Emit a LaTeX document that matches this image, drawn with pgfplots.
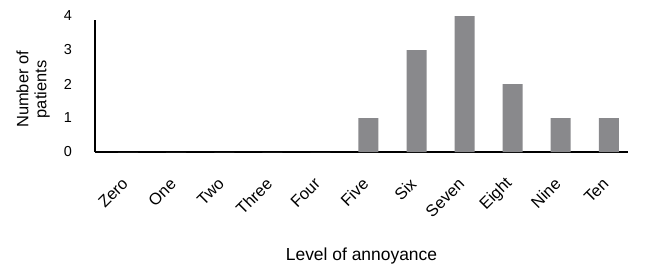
\documentclass[border=0pt]{standalone}
\usepackage{pgfplots}
\pgfplotsset{compat=1.18}
\usepackage{fontspec}
\setmainfont{Liberation Sans}
\definecolor{bargray}{RGB}{137,137,140}
\begin{document}
\begin{tikzpicture}
\begin{axis}[
  scale only axis,
  width=533bp, height=136bp,
  xmin=-0.69, xmax=10.4,
  ymin=0, ymax=4,
  axis x line*=bottom, axis y line*=left,
  x axis line style={line width=1.6pt, black, -},
  y axis line style={draw=none},
  xtick={0,...,10},
  xticklabels={Zero,One,Two,Three,Four,Five,Six,Seven,Eight,Nine,Ten},
  ytick={0,1,2,3,4},
  major tick length=0pt,
  tick style={draw=none},
  /pgf/number format/assume math mode=true,
  xticklabel style={font=\fontsize{16.5}{18}\selectfont, xshift=-3bp, yshift=-29bp, rotate=45, anchor=east, inner sep=0pt},
  yticklabel style={font=\fontsize{14.5}{16}\selectfont, anchor=east, inner sep=0pt, xshift=-23bp},
  xlabel={Level of annoyance},
  xlabel style={font=\fontsize{17.5}{19}\selectfont, at={(axis description cs:0.5,-0.765)}, anchor=center},
  ylabel={Number of\\patients},
  ylabel style={font=\fontsize{16.5}{18}\selectfont, at={(axis description cs:-0.116,0.46)}, anchor=center, rotate=0, align=center},
  clip=false,
]
\addplot[ybar, bar width=20bp, fill=bargray, draw=none] coordinates {
(0,0) (1,0) (2,0) (3,0) (4,0) (5,1) (6,3) (7,4) (8,2) (9,1) (10,1)
};
\draw[line width=1.6pt, black] (axis cs:-0.69,0) -- (axis cs:-0.69,3.87);
\coordinate (o) at (rel axis cs:0,0);
\end{axis}
\path (o) ++(-95bp,-117bp) rectangle ++(650bp,269bp);
\end{tikzpicture}
\end{document}
